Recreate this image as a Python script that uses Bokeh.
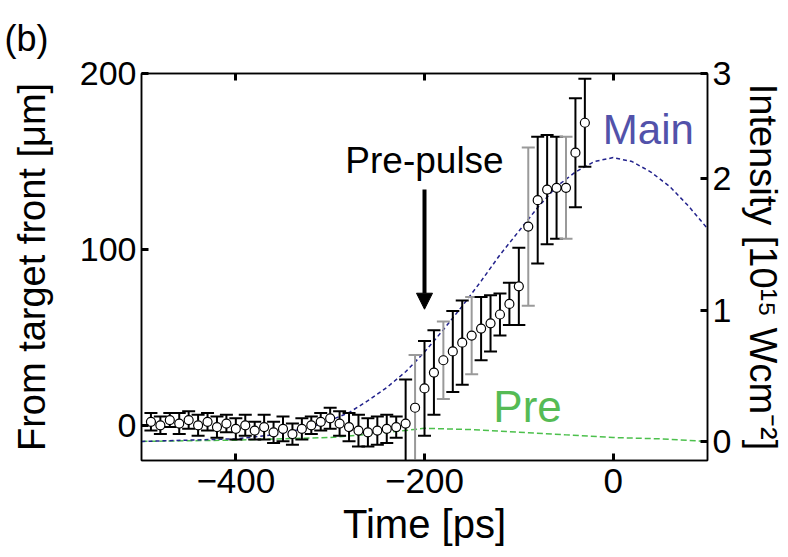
from bokeh.plotting import figure
from bokeh.models import (Range1d, LinearAxis, FixedTicker, ColumnDataSource,
                          Arrow, NormalHead, Label)
from bokeh.embed import file_html
from bokeh.resources import INLINE

# ---- data ----
time_ps = [-490, -480, -470, -460, -450, -440, -430, -420, -410, -400,
           -390, -380, -370, -360, -350, -340, -330, -320, -310, -300,
           -290, -280, -270, -260, -250, -240, -230, -220, -210, -200,
           -190, -180, -170, -160, -150, -140, -130, -120, -110, -100,
           -90, -80, -70, -60, -50, -40, -30]
front_um = [2, 0, 3, 1, 3, 0, 2, -1, 1, -2,
            0, -3, -1, -4, -2, -5, -2, 0, 2, 4,
            1, -1, -3, -4, -3, -2, -1, 1, 10, 21,
            30, 37, 42, 47, 51, 55, 58, 63, 69, 79,
            113, 128, 134, 135, 135, 155, 172]
front_err = [5, 5, 4, 6, 5, 6, 5, 6, 5, 6,
             6, 5, 7, 6, 7, 6, 6, 5, 5, 6,
             7, 8, 9, 8, 8, 8, 6, 25, 30, 27,
             24, 22, 23, 24, 22, 18, 16, 12, 12, 22,
             45, 36, 31, 29, 29, 31, 25]
bar_grey = [-210, -180, -150, -90, -50]

pulse_t = [-500, -450, -400, -360, -340, -320, -300, -280, -260, -240,
           -220, -200, -180, -160, -140, -120, -100, -80, -60, -40,
           -20, 0, 20, 40, 60, 80, 100]
main_I = [0.00, 0.01, 0.02, 0.05, 0.08, 0.11, 0.16, 0.22, 0.31, 0.41,
          0.53, 0.68, 0.85, 1.03, 1.22, 1.42, 1.60, 1.78, 1.94, 2.05,
          2.13, 2.16, 2.13, 2.05, 1.94, 1.79, 1.62]
pre_t = [-500, -400, -300, -250, -200, -150, -100, -50, 0, 50, 100]
pre_I = [0.00, 0.01, 0.03, 0.06, 0.10, 0.09, 0.07, 0.05, 0.03, 0.02, 0.00]

prepulse_time = -200

x_ticks = [-400, -200, 0]
y_ticks = [0, 100, 200]
i_ticks = [0, 1, 2, 2.8]
i_labels = {2.8: "3"}

FONT = "Liberation Sans"

lo = [v - e for v, e in zip(front_um, front_err)]
hi = [v + e for v, e in zip(front_um, front_err)]
cols = ["#9a9a9a" if t in bar_grey else "black" for t in time_ps]
src = ColumnDataSource(dict(t=time_ps, v=front_um, lo=lo, hi=hi, c=cols))

p = figure(width=788, height=557, x_range=Range1d(-500, 100), y_range=Range1d(-20, 200),
           output_backend="svg", toolbar_location=None,
           min_border_left=141, min_border_right=81, min_border_top=73, min_border_bottom=97,
           title="(b)")
p.title.text_font = FONT
p.title.text_font_size = "36px"
p.title.text_font_style = "normal"
p.title.text_color = "black"
p.title.align = "left"
p.title.vertical_align = "top"
p.title.offset = -137
p.title.standoff = 26
p.extra_y_ranges = {"I": Range1d(-0.145, 2.80)}
p.grid.visible = False
p.outline_line_color = "black"
p.outline_line_width = 1.5
p.background_fill_color = "white"
p.border_fill_color = "white"

def style_axis(ax, size="34px"):
    ax.major_tick_in = 7
    ax.major_tick_out = 0
    ax.minor_tick_in = 0
    ax.minor_tick_out = 0
    ax.axis_line_color = "black"
    ax.axis_line_width = 1.5
    ax.major_tick_line_width = 3
    ax.major_tick_line_color = "black"
    ax.major_label_text_font = FONT
    ax.major_label_text_font_size = size
    ax.major_label_text_color = "black"
    ax.axis_label_text_font = FONT
    ax.axis_label_text_font_style = "normal"
    ax.axis_label_text_font_size = "38px"
    ax.axis_label_text_color = "black"

xa = p.xaxis[0]
style_axis(xa, "35px")
xa.ticker = FixedTicker(ticks=x_ticks)
xa.major_label_overrides = {-400: "\u2212400", -200: "\u2212200", 0: "0"}
xa.axis_label = "Time [ps]"
xa.axis_label_text_font_size = "40px"
xa.major_label_standoff = 8
xa.axis_label_standoff = 6

ya = p.yaxis[0]
style_axis(ya)
ya.ticker = FixedTicker(ticks=y_ticks)
ya.axis_label = "From target front [\u03bcm]"
ya.major_label_standoff = 5
ya.axis_label_standoff = 24

top = LinearAxis(ticker=FixedTicker(ticks=x_ticks),
                 major_label_overrides={-400: "", -200: "", 0: ""})
style_axis(top, "1px")
top.major_label_standoff = 0
p.add_layout(top, "above")

ra = LinearAxis(y_range_name="I", ticker=FixedTicker(ticks=i_ticks),
                major_label_overrides=i_labels,
                axis_label="Intensity [10\u00b9\u2075 Wcm\u207b\u00b2]")
style_axis(ra)
ra.axis_label_text_font_size = "38px"
ra.major_label_standoff = 5
ra.axis_label_standoff = 8
p.add_layout(ra, "right")

# curves
p.line(pre_t, pre_I, y_range_name="I", line_color="#4cc04c", line_dash="6 3", line_width=1.5)
p.line(pulse_t, main_I, y_range_name="I", line_color="#22228c", line_dash="4 3", line_width=1.5)

# error bars and points
p.segment(x0="t", y0="lo", x1="t", y1="hi", line_color="c", line_width=2, source=src)
p.scatter(x="t", y="lo", marker="dash", size=13, line_color="c", line_width=2, source=src)
p.scatter(x="t", y="hi", marker="dash", size=13, line_color="c", line_width=2, source=src)
p.scatter(x="t", y="v", marker="circle", size=9, fill_color="white", line_color="black",
          line_width=1.2, source=src)

# annotations
p.add_layout(Arrow(end=NormalHead(size=16, fill_color="black", line_color="black"),
                   x_start=prepulse_time, y_start=134, x_end=prepulse_time, y_end=66,
                   line_width=4, line_color="black"))
p.add_layout(Label(x=prepulse_time, y=139, text="Pre-pulse", text_align="center",
                   text_font=FONT, text_font_size="37px", text_color="black"))
p.add_layout(Label(x=-11, y=155, text="Main", text_font=FONT, text_font_size="42px",
                   text_color="#5252aa"))
p.add_layout(Label(x=-127, y=-3.4, text="Pre", text_font=FONT, text_font_size="44px",
                   text_color="#55bb55"))

open("out.html", "w").write(file_html(p, INLINE))
